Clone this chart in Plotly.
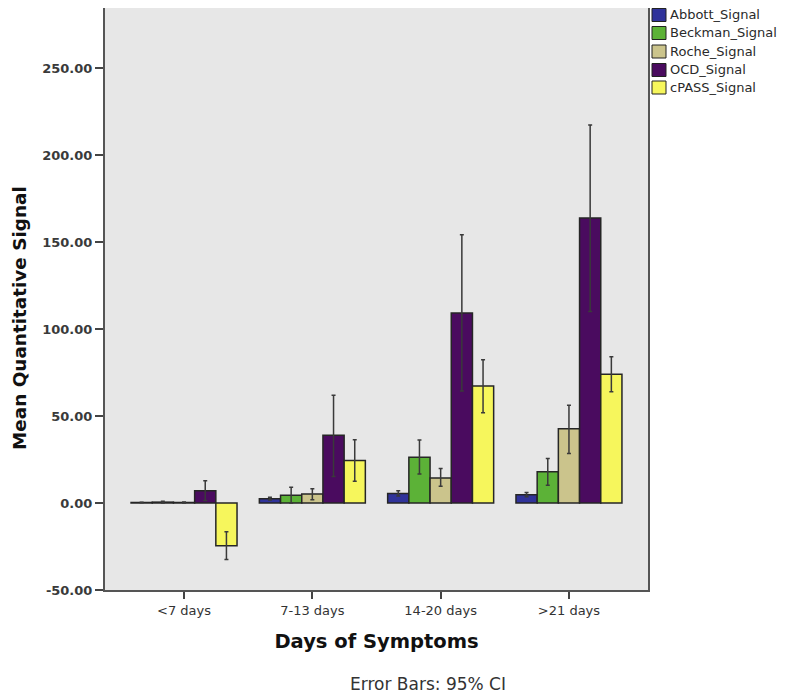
import plotly.graph_objects as go

categories = ["<7 days", "7-13 days", "14-20 days", ">21 days"]

series_names = ["Abbott_Signal", "Beckman_Signal", "Roche_Signal", "OCD_Signal", "cPASS_Signal"]

abbott_mean = [0.3, 2.5, 5.5, 4.8]
abbott_hi = [0.5, 3.3, 7.0, 6.0]
abbott_lo = [0.1, 1.7, 4.0, 3.6]

beckman_mean = [0.5, 4.4, 26.3, 17.9]
beckman_hi = [1.0, 9.0, 36.2, 25.6]
beckman_lo = [0.0, 0.0, 16.7, 10.2]

roche_mean = [0.3, 5.2, 14.4, 42.7]
roche_hi = [0.6, 8.2, 19.8, 56.2]
roche_lo = [0.0, 1.9, 9.6, 28.5]

ocd_mean = [7.1, 38.9, 109.2, 163.8]
ocd_hi = [12.8, 61.9, 154.2, 217.3]
ocd_lo = [1.4, 15.3, 64.4, 110.0]

cpass_mean = [-24.5, 24.5, 67.3, 74.0]
cpass_hi = [-16.5, 36.4, 82.3, 84.0]
cpass_lo = [-32.5, 12.5, 51.9, 64.0]

y_ticks = [-50, 0, 50, 100, 150, 200, 250]

colors = ["#30339a", "#5cb237", "#cbc48c", "#4a0b5f", "#f6f65c"]

means = [abbott_mean, beckman_mean, roche_mean, ocd_mean, cpass_mean]
his = [abbott_hi, beckman_hi, roche_hi, ocd_hi, cpass_hi]
los = [abbott_lo, beckman_lo, roche_lo, ocd_lo, cpass_lo]

FONT = "DejaVu Sans, Open Sans, sans-serif"

# figure geometry (page has an 8px body margin)
W, H = 783, 689
ML, MR, MT, MB = 97, 143, 0, 107
PW, PH = W - ML - MR, H - MT - MB


def px(xp):  # page x -> paper x
    return (xp - 8 - ML) / PW


def py(yp):  # page y -> paper y
    return (H - MB - (yp - 8)) / PH


fig = go.Figure()
for name, m, h, l, c in zip(series_names, means, his, los, colors):
    fig.add_trace(go.Bar(
        name=name, x=list(range(len(categories))), y=m,
        marker=dict(color=c, line=dict(color="#262626", width=1.5)),
        error_y=dict(type="data", symmetric=False,
                     array=[hh - mm for hh, mm in zip(h, m)],
                     arrayminus=[mm - ll for mm, ll in zip(m, l)],
                     color="#3a3a3a", thickness=1.5, width=2),
        showlegend=False,
    ))

# legend drawn as swatches + text
shapes = []
annotations = []
row_y = [15, 33, 51.5, 70, 87.5]
for name, c, ry in zip(series_names, colors, row_y):
    shapes.append(dict(type="rect", xref="paper", yref="paper",
                       x0=px(652), x1=px(666), y0=py(ry + 6.5), y1=py(ry - 6.5),
                       fillcolor=c, line=dict(color="#222222", width=1)))
    annotations.append(dict(text=name, xref="paper", yref="paper",
                            x=px(668), y=py(ry), xanchor="left", yanchor="middle",
                            showarrow=False,
                            font=dict(family=FONT, size=13, color="#2a2a2a")))

annotations.append(dict(text="Error Bars: 95% CI", xref="paper", yref="paper",
                        x=px(428), y=py(684), xanchor="center", yanchor="middle",
                        showarrow=False, font=dict(family=FONT, size=17, color="#333333")))
annotations.append(dict(text="<b>Mean Quantitative Signal</b>", xref="paper", yref="paper",
                        x=px(19), y=py(318), xanchor="center", yanchor="middle",
                        showarrow=False, textangle=-90,
                        font=dict(family=FONT, size=18.4, color="#111111")))

fig.update_layout(
    width=W, height=H,
    margin=dict(l=ML, r=MR, t=MT, b=MB, autoexpand=False),
    paper_bgcolor="white", plot_bgcolor="#e7e7e7",
    barmode="group", bargap=0.174, bargroupgap=0,
    showlegend=False,
    xaxis=dict(
        range=[-0.616, 3.616], tickmode="array", tickvals=list(range(len(categories))),
        ticktext=categories, ticks="outside", ticklen=7, tickwidth=2, tickcolor="#444444",
        showline=True, linecolor="#555555", linewidth=2, mirror=True, showgrid=False,
        zeroline=False, tickfont=dict(family=FONT, size=13, color="#333333"),
        title=dict(text="<b>Days of Symptoms</b>",
                   font=dict(family=FONT, size=19.5, color="#111111"),
                   standoff=18),
    ),
    yaxis=dict(
        range=[-50, 284.5], tickmode="array", tickvals=y_ticks,
        ticktext=["<b>%.2f</b>" % v for v in y_ticks],
        ticks="outside", ticklen=8, tickwidth=2, tickcolor="#444444",
        showline=True, linecolor="#555555", linewidth=2, mirror=True, showgrid=False,
        zeroline=False, tickfont=dict(family=FONT, size=13, color="#3a3a3a"),
    ),
    shapes=shapes,
    annotations=annotations,
)

fig.write_html("out.html")
